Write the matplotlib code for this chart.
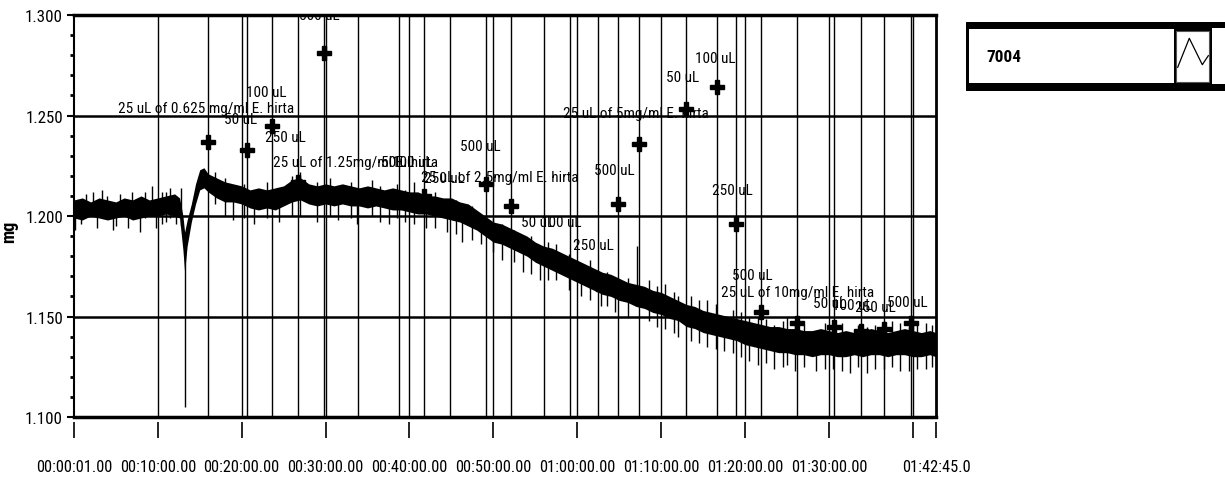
import matplotlib
matplotlib.use("Agg")
import matplotlib.pyplot as plt
from matplotlib import font_manager
from matplotlib.patches import Rectangle
from matplotlib.lines import Line2D
from matplotlib.ticker import MultipleLocator

# prefer a condensed face if one is installed, otherwise Liberation Sans
_names = {f.name for f in font_manager.fontManager.ttflist}
NARROW = None
for cand in ["Liberation Sans Narrow", "Roboto Condensed", "Open Sans Condensed", "DejaVu Sans Condensed"]:
    if cand in _names:
        NARROW = cand
        break
FONT = [NARROW, "Liberation Sans", "DejaVu Sans"] if NARROW else ["Liberation Sans", "DejaVu Sans"]
plt.rcParams["font.family"] = FONT
SCALE = 1.18 if NARROW else 1.0   # condensed faces can be set larger for the same width

# ---------------- data (time in minutes from start, mass in mg) ----------------
time_min = [0.0167, 1, 2, 3, 4, 5, 6, 7, 8, 9, 10, 11, 12, 12.6, 13.0, 13.2, 13.5, 14, 14.5, 15, 15.5,
            16, 17, 18, 19, 20, 21, 22, 23, 24, 25, 26, 27, 28, 29, 30, 31, 32, 33, 34, 35, 36, 37, 38, 39,
            40, 41, 42, 43, 44, 45, 46, 47, 48, 49, 50, 51, 52, 53, 54, 55, 56, 57, 58, 59, 60, 61, 62, 63,
            64, 65, 66, 67, 68, 69, 70, 71, 72, 73, 74, 75, 76, 77, 78, 79, 80, 81, 82, 83, 84, 85, 86, 87,
            88, 89, 90, 91, 92, 93, 94, 95, 96, 97, 98, 99, 100, 101, 102, 102.75]

mass_upper = [1.208, 1.209, 1.207, 1.209, 1.208, 1.207, 1.209, 1.208, 1.210, 1.208, 1.209, 1.210, 1.211,
              1.209, 1.200, 1.192, 1.198, 1.206, 1.216, 1.223, 1.224,
              1.221, 1.219, 1.217, 1.216, 1.215, 1.213, 1.214, 1.213, 1.214, 1.215, 1.218, 1.219, 1.216,
              1.215, 1.216, 1.215, 1.216, 1.215, 1.214, 1.215, 1.214, 1.213, 1.214, 1.213,
              1.212, 1.212, 1.210, 1.210, 1.209, 1.209, 1.207, 1.206, 1.203, 1.200, 1.197, 1.196, 1.194,
              1.192, 1.190, 1.187, 1.185, 1.184, 1.182, 1.180, 1.178, 1.176, 1.174, 1.172,
              1.171, 1.169, 1.167, 1.166, 1.165, 1.163, 1.162, 1.160, 1.158, 1.156, 1.155, 1.153, 1.152,
              1.151, 1.150, 1.149, 1.148, 1.147, 1.146, 1.145, 1.145, 1.144, 1.144, 1.143,
              1.143, 1.144, 1.143, 1.142, 1.143, 1.142, 1.143, 1.144, 1.143, 1.142, 1.143, 1.144, 1.143,
              1.142, 1.143, 1.142]

mass_lower = [1.199, 1.198, 1.200, 1.199, 1.198, 1.199, 1.200, 1.198, 1.199, 1.200, 1.200, 1.201, 1.200,
              1.199, 1.183, 1.172, 1.185, 1.197, 1.206, 1.213, 1.214,
              1.212, 1.209, 1.207, 1.207, 1.206, 1.204, 1.203, 1.204, 1.203, 1.205, 1.207, 1.208, 1.206,
              1.205, 1.206, 1.205, 1.206, 1.205, 1.205, 1.204, 1.205, 1.204, 1.203, 1.203,
              1.202, 1.201, 1.201, 1.200, 1.199, 1.198, 1.197, 1.195, 1.193, 1.190, 1.187, 1.186, 1.184,
              1.182, 1.180, 1.177, 1.175, 1.173, 1.171, 1.169, 1.167, 1.165, 1.163, 1.161,
              1.160, 1.158, 1.157, 1.155, 1.154, 1.152, 1.151, 1.149, 1.148, 1.145, 1.144, 1.142, 1.141,
              1.140, 1.139, 1.138, 1.136, 1.135, 1.134, 1.133, 1.132, 1.132, 1.131, 1.131,
              1.130, 1.131, 1.131, 1.130, 1.130, 1.131, 1.130, 1.131, 1.131, 1.130, 1.131, 1.131, 1.130,
              1.130, 1.131, 1.130]

# isolated noise spikes / the injection dip (minutes, low mg, high mg)
spike_t = [0.1, 0.8, 1.5, 2.3, 2.8, 3.3, 4.0, 4.7, 5.0, 5.5, 6.4, 6.9, 7.9, 8.5, 9.3, 9.8, 10.5, 11.0,
           11.5, 12.2, 12.8, 13.2, 16.8, 18.0, 19.0, 20.3, 21.5, 23.0, 24.5, 26.0, 27.0, 29.0, 30.5,
           31.5, 33.0, 33.8, 35.5, 36.5, 37.5, 38.5, 39.5, 40.5, 42.0, 43.0, 44.5, 45.5, 46.3, 47.5,
           48.5, 50.0, 51.0, 52.5, 53.5, 54.5, 55.5, 56.5, 57.5, 59.0, 60.5, 61.5, 62.8, 63.5, 64.5,
           66.0, 67.1, 68.5, 69.5, 70.5, 71.5, 72.0, 73.5, 74.5, 75.5, 76.5, 77.5, 78.5, 79.5, 80.5,
           81.5, 82.5, 83.5, 84.5, 85.0, 86.0, 87.0, 88.5, 89.5, 90.5, 91.5, 92.5, 93.5, 94.5, 95.5,
           96.5, 97.5, 98.5, 99.5, 100.5, 101.5, 102.3]
spike_lo = [1.193, 1.196, 1.200, 1.200, 1.194, 1.200, 1.199, 1.193, 1.195, 1.200, 1.194, 1.200, 1.192,
            1.199, 1.200, 1.194, 1.196, 1.197, 1.199, 1.196, 1.195, 1.105, 1.206, 1.200, 1.198, 1.199,
            1.196, 1.199, 1.197, 1.200, 1.200, 1.197, 1.200, 1.198, 1.199, 1.196, 1.200, 1.197, 1.196,
            1.199, 1.197, 1.196, 1.194, 1.194, 1.192, 1.191, 1.187, 1.188, 1.186, 1.182, 1.178, 1.177,
            1.172, 1.171, 1.168, 1.168, 1.168, 1.163, 1.160, 1.158, 1.155, 1.155, 1.152, 1.150, 1.160,
            1.148, 1.145, 1.144, 1.142, 1.140, 1.138, 1.137, 1.135, 1.134, 1.133, 1.132, 1.130, 1.128,
            1.126, 1.127, 1.124, 1.125, 1.126, 1.123, 1.125, 1.123, 1.124, 1.124, 1.123, 1.122, 1.125,
            1.122, 1.124, 1.124, 1.125, 1.123, 1.123, 1.124, 1.124, 1.125]
spike_hi = [1.205, 1.207, 1.211, 1.212, 1.206, 1.213, 1.210, 1.203, 1.204, 1.211, 1.203, 1.212, 1.203,
            1.212, 1.215, 1.205, 1.212, 1.212, 1.214, 1.210, 1.214, 1.190, 1.222, 1.219, 1.212, 1.216,
            1.210, 1.217, 1.212, 1.220, 1.222, 1.217, 1.219, 1.214, 1.217, 1.213, 1.218, 1.215, 1.210,
            1.216, 1.213, 1.217, 1.208, 1.212, 1.207, 1.208, 1.203, 1.205, 1.200, 1.199, 1.196, 1.193,
            1.189, 1.190, 1.183, 1.187, 1.186, 1.181, 1.175, 1.178, 1.170, 1.172, 1.168, 1.169, 1.185,
            1.168, 1.165, 1.166, 1.162, 1.160, 1.160, 1.158, 1.158, 1.156, 1.148, 1.153, 1.152, 1.150,
            1.150, 1.149, 1.146, 1.148, 1.150, 1.147, 1.146, 1.142, 1.147, 1.148, 1.147, 1.141, 1.146,
            1.145, 1.146, 1.148, 1.148, 1.147, 1.145, 1.146, 1.147, 1.146]

# injection events (minutes) and their marker values (mg)
event_t = [16.0, 20.6, 23.6, 26.7, 29.8, 33.9, 38.8, 41.7, 44.8, 49.1, 52.1, 56.0, 59.1, 62.5, 64.8,
           67.4, 72.9, 76.7, 78.9, 81.9, 86.2, 90.6, 93.8, 96.6, 99.8]
event_v = [1.237, 1.233, 1.245, 1.217, 1.281, 1.210, 1.208, 1.210, 1.203, 1.216, 1.205, 1.180, 1.174,
           1.166, 1.206, 1.236, 1.253, 1.264, 1.196, 1.152, 1.147, 1.145, 1.143, 1.144, 1.147]

# annotation texts with their anchor (minutes, mg baseline)
label_text = ["25 uL of 0.625 mg/ml E. hirta", "50 uL", "100 uL", "250 uL", "500 uL",
              "25 uL of 1.25mg/ml E. hirta", "50 uL", "100 uL", "250 uL", "500 uL",
              "25 uL of 2.5mg/ml E. hirta", "50 uL", "100 uL", "250 uL", "500 uL",
              "25 uL of 5mg/ml E. hirta", "50 uL", "100 uL", "250 uL", "500 uL",
              "25 uL of 10mg/ml E. hirta", "50 uL", "100 uL", "250 uL", "500 uL"]
label_t = [15.7, 19.9, 22.9, 25.2, 29.3,
           33.6, 38.6, 40.3, 44.2, 48.5,
           50.7, 55.3, 58.1, 61.9, 64.4,
           67.0, 72.5, 76.4, 78.5, 80.8,
           86.2, 90.1, 92.8, 95.5, 99.3]
label_v = [1.2517, 1.2463, 1.2597, 1.2373, 1.2980,
           1.2249, 1.2249, 1.2249, 1.2169, 1.2328,
           1.2174, 1.1950, 1.1950, 1.1836, 1.2209,
           1.2493, 1.2672, 1.2766, 1.2110, 1.1687,
           1.1602, 1.1547, 1.1537, 1.1527, 1.1552]

xtick_pos = [1 / 60, 10, 20, 30, 40, 50, 60, 70, 80, 90, 100, 102.75]
xtick_labels = ["00:00:01.00", "00:10:00.00", "00:20:00.00", "00:30:00.00", "00:40:00.00",
                "00:50:00.00", "01:00:00.00", "01:10:00.00", "01:20:00.00", "01:30:00.00",
                "", "01:42:45.0"]
ytick_vals = [1.100, 1.150, 1.200, 1.250, 1.300]
ytick_labels = ["1.100", "1.150", "1.200", "1.250", "1.300"]
y_label = "mg"
legend_name = "7004"

# ---------------- figure ----------------
W, H = 1225, 481
fig = plt.figure(figsize=(W / 100, H / 100), dpi=100)
ax = fig.add_axes([74 / W, 1 - 418 / H, 862 / W, 402 / H])
ax.set_xlim(xtick_pos[0], xtick_pos[-1])
ax.set_ylim(ytick_vals[0], ytick_vals[-1])

# grid
for v in ytick_vals[1:-1]:
    ax.axhline(v, color="black", lw=1.8, zorder=1)
for p in xtick_pos[1:-1]:
    ax.axvline(p, color="black", lw=1.0, zorder=1)
ax.vlines(event_t, ytick_vals[0], ytick_vals[-1], color="black", lw=1.0, zorder=1)

# signal
ax.fill_between(time_min, mass_lower, mass_upper, color="black", lw=0, zorder=2)
ax.vlines(spike_t, spike_lo, spike_hi, color="black", lw=1.0, zorder=2)

# markers
ax.plot(event_t, event_v, ls="none", marker="P", ms=9.5, color="black", zorder=3)

# annotations
for s, t, v in zip(label_text, label_t, label_v):
    ax.text(t, v, s, ha="center", va="baseline", fontsize=9.3 * SCALE, color="black",
            clip_on=True, zorder=4)

# spines
ax.spines["top"].set_linewidth(2.5)
ax.spines["right"].set_linewidth(2.0)
ax.spines["left"].set_linewidth(1.5)
ax.spines["bottom"].set_position(("outward", 3.6))
ax.spines["bottom"].set_visible(False)
ax.axhline(ytick_vals[0], color="black", lw=2.5, clip_on=False, zorder=5)

# ticks
ax.set_xticks(xtick_pos)
ax.set_xticklabels(xtick_labels)
ax.tick_params(axis="x", length=11.5, width=1.2, pad=15.5, labelsize=10.0 * SCALE)
ax.set_yticks(ytick_vals)
ax.set_yticklabels(ytick_labels)
ax.yaxis.set_minor_locator(MultipleLocator(0.01))
ax.tick_params(axis="y", which="major", length=5, width=1.5, labelsize=10.3 * SCALE, pad=3)
ax.tick_params(axis="y", which="minor", length=3, width=2)

ax.set_ylabel(y_label, fontsize=13, fontweight="bold")
ax.yaxis.set_label_coords(-0.065, 0.463)


# ---------------- legend box (top right) ----------------
def px_rect(x0, y0, x1, y1, **kw):
    return Rectangle((x0 / W, 1 - y1 / H), (x1 - x0) / W, (y1 - y0) / H,
                     transform=fig.transFigure, **kw)


fig.patches.append(px_rect(966, 23, 1226, 92, facecolor="black", edgecolor="none"))
fig.patches.append(px_rect(969, 30, 1174, 84, facecolor="white", edgecolor="none"))
fig.patches.append(px_rect(1176, 32, 1209, 83, facecolor="white", edgecolor="#555555", lw=0.8))
fig.patches.append(px_rect(1212, 29, 1226, 85, facecolor="white", edgecolor="none"))
zx = [1177.7, 1189.3, 1202.3, 1208.3]
zy = [68.3, 39.3, 65.7, 56.7]
fig.lines.append(Line2D([x / W for x in zx], [1 - y / H for y in zy], color="black", lw=0.9,
                        transform=fig.transFigure))
fig.text(986 / W, 1 - 57.5 / H, legend_name, ha="left", va="center", fontsize=10.5 * SCALE,
         fontweight="bold")

fig.savefig("out.png", dpi=100)
